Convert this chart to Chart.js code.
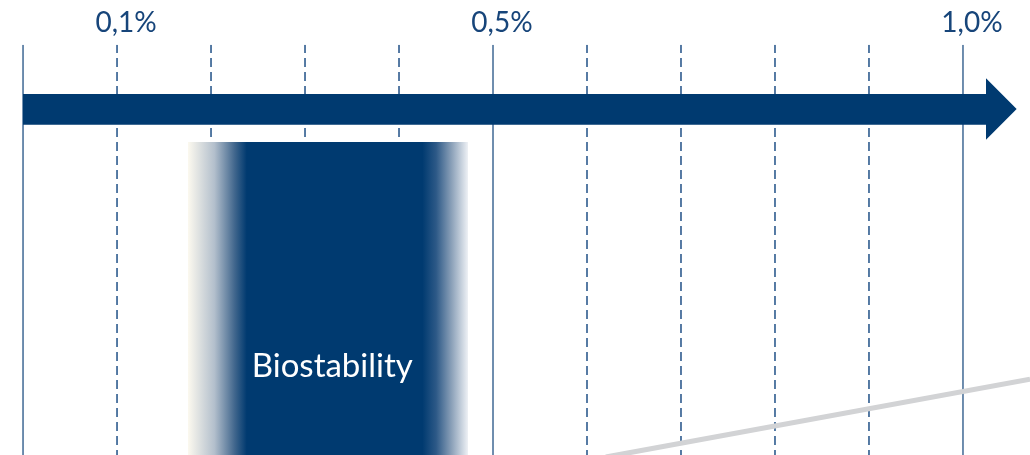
<!DOCTYPE html>
<html>
<head>
<meta charset="utf-8">
<script src="https://cdn.jsdelivr.net/npm/chart.js"></script>
<style>
  html, body { margin: 0; padding: 0; background: #ffffff; }
  #wrap { width: 1030px; height: 455px; }
</style>
</head>
<body>
<div id="wrap"><canvas id="scaleChart" width="1030" height="455"></canvas></div>
<script>
// axis values (percent scale 0..1,0)
const gridValues = [0, 0.1, 0.2, 0.3, 0.4, 0.5, 0.6, 0.7, 0.8, 0.9, 1.0];
const solidGridValues = [0, 0.5, 1.0];
const tickValues = [0.1, 0.5, 1.0];

// arrow outline (x in %, y in 0..100 height units)
const arrowX = [0, 1.0245, 1.0245, 1.0571, 1.0245, 1.0245, 0];
const arrowY = [88.0, 88.0, 91.86, 84.35, 76.85, 80.5, 80.5];

// biostability band
const bandRange = [0.1755, 0.4734];
const bandCore = [0.238, 0.425];
const bandTop = 76.3;
const bandLabel = 'Biostability';
const bandLabelPos = [0.329, 21.5];

// grey diagonal line
const trendX = [0.62, 1.0713];
const trendY = [-0.5, 18.5];

const navy = '#003a70';

function pts(xs, ys) {
    return xs.map((x, i) => ({ x: x, y: ys[i] }));
}

function bandGradient(context) {
    const chart = context.chart;
    if (!chart.chartArea) return navy;
    const xs = chart.scales.x;
    const x0 = xs.getPixelForValue(bandRange[0]);
    const x1 = xs.getPixelForValue(bandRange[1]);
    const w = x1 - x0;
    const c0 = (xs.getPixelForValue(bandCore[0]) - x0) / w;
    const c1 = (xs.getPixelForValue(bandCore[1]) - x0) / w;
    const g = chart.ctx.createLinearGradient(x0, 0, x1, 0);
    g.addColorStop(0, '#fcf9ef');
    g.addColorStop(c0 * 0.45, '#b3bfcc');
    g.addColorStop(c0 * 0.8, '#3f658c');
    g.addColorStop(c0, navy);
    g.addColorStop(c1, navy);
    g.addColorStop(c1 + (1 - c1) * 0.3, '#2d5987');
    g.addColorStop(c1 + (1 - c1) * 0.65, '#8ea3ba');
    g.addColorStop(1, '#eef1f5');
    return g;
}

const datasets = [];

datasets.push({
    label: 'arrow',
    data: pts(arrowX, arrowY),
    borderWidth: 0,
    backgroundColor: navy,
    fill: 'shape',
    pointRadius: 0,
    order: 0
});

datasets.push({
    label: 'band',
    data: pts(
        [bandRange[0], bandRange[0], bandRange[1], bandRange[1]],
        [-2, bandTop, bandTop, -2]
    ),
    borderWidth: 0,
    backgroundColor: bandGradient,
    fill: 'shape',
    pointRadius: 0,
    order: 1
});

datasets.push({
    label: 'trend',
    data: pts(trendX, trendY),
    borderColor: '#d2d3d5',
    borderWidth: 5,
    fill: false,
    pointRadius: 0,
    order: 2
});

gridValues.forEach(v => {
    const solid = solidGridValues.includes(v);
    datasets.push({
        label: 'grid ' + v,
        data: pts([v, v], [-1, 100]),
        borderColor: solid ? '#3f6894' : '#1f4f86',
        borderWidth: 1.5,
        borderDash: solid ? [] : [9, 5],
        fill: false,
        pointRadius: 0,
        order: 3
    });
});

const bandLabelPlugin = {
    id: 'bandLabel',
    afterDatasetsDraw(chart) {
        const { ctx, scales: { x, y } } = chart;
        ctx.save();
        ctx.font = '33px Lato';
        ctx.fillStyle = '#ffffff';
        ctx.textAlign = 'center';
        ctx.textBaseline = 'middle';
        ctx.fillText(bandLabel, x.getPixelForValue(bandLabelPos[0]), y.getPixelForValue(bandLabelPos[1]));
        ctx.restore();
    }
};

new Chart(document.getElementById('scaleChart').getContext('2d'), {
    type: 'line',
    data: { datasets: datasets },
    plugins: [bandLabelPlugin],
    options: {
        responsive: false,
        animation: false,
        layout: { padding: { top: 2, left: 0, right: 0, bottom: 0 } },
        plugins: {
            legend: { display: false },
            tooltip: { enabled: false },
            title: { display: false }
        },
        scales: {
            x: {
                type: 'linear',
                position: 'top',
                min: -0.0245,
                max: 1.0713,
                grid: { display: false, drawTicks: false },
                border: { display: false },
                afterBuildTicks: (axis) => {
                    axis.ticks = tickValues.map(v => ({ value: v }));
                },
                ticks: {
                    padding: 6,
                    labelOffset: 9,
                    color: '#17457a',
                    font: { family: 'Lato', size: 28, lineHeight: 1.1 },
                    maxRotation: 0,
                    autoSkip: false,
                    callback: (value) => value.toFixed(1).replace('.', ',') + '%'
                }
            },
            y: {
                type: 'linear',
                display: false,
                min: 0,
                max: 100
            }
        }
    }
});
</script>
</body>
</html>
